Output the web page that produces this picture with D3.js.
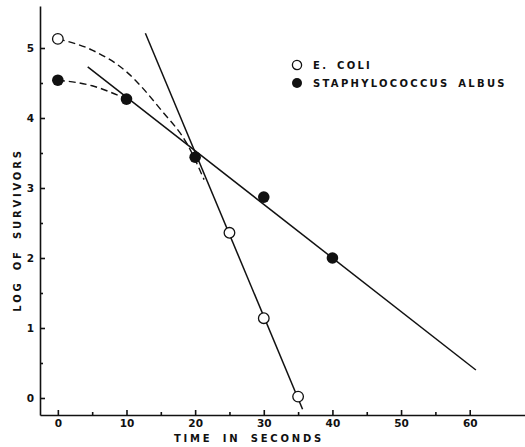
<!DOCTYPE html>
<html>
<head>
<meta charset="utf-8">
<script src="https://cdn.jsdelivr.net/npm/d3@7"></script>
<style>
  body { margin: 0; background: #fff; }
  svg { display: block; }
  text { font-family: "DejaVu Sans", sans-serif; fill: #111; }
</style>
</head>
<body>
<svg id="chart" width="525" height="447"></svg>
<script>
// data (time in seconds, log of survivors)
var coliTime = [0, 25, 30, 35];
var coliLog = [5.13, 2.36, 1.14, 0.02];
var staphTime = [0, 10, 20, 30, 40];
var staphLog = [4.54, 4.27, 3.44, 2.87, 2.0];

// fitted straight lines (end points)
var coliFitTime = [12.75, 35.65];
var coliFitLog = [5.21, -0.16];
var staphFitTime = [4.35, 60.9];
var staphFitLog = [4.73, 0.4];

// dashed shoulder curves
var coliCurveTime = [0, 5, 10, 15, 19, 21.3];
var coliCurveLog = [5.13, 4.97, 4.66, 4.12, 3.6, 3.12];
var staphCurveTime = [0, 5, 10];
var staphCurveLog = [4.54, 4.46, 4.27];

var xTicks = [0, 10, 20, 30, 40, 50, 60];
var xMinor = [5, 15, 25, 35, 45, 55];
var yTicks = [0, 1, 2, 3, 4, 5];
var yMinor = [0.5, 1.5, 2.5, 3.5, 4.5];

var svg = d3.select("#chart");

var x = d3.scaleLinear().domain([-2.6, 68.2]).range([40, 526]);
var y = d3.scaleLinear().domain([-0.243, 5.6]).range([415, 6]);

function zip(a, b) { return a.map(function(v, i) { return [v, b[i]]; }); }

var line = d3.line()
    .x(function(d) { return x(d[0]); })
    .y(function(d) { return y(d[1]); });
var curve = d3.line()
    .curve(d3.curveMonotoneX)
    .x(function(d) { return x(d[0]); })
    .y(function(d) { return y(d[1]); });

// axes
svg.append("g").attr("transform", "translate(0,415)")
    .call(d3.axisBottom(x).tickValues(xTicks).tickFormat(d3.format("d"))
      .tickSizeInner(-5).tickSizeOuter(0).tickPadding(5));
svg.append("g").attr("transform", "translate(0,415)")
    .call(d3.axisBottom(x).tickValues(xMinor).tickSizeInner(-3).tickSizeOuter(0).tickFormat(""))
    .select(".domain").remove();
svg.append("g").attr("transform", "translate(40,0)")
    .call(d3.axisLeft(y).tickValues(yTicks).tickFormat(d3.format("d"))
      .tickSizeInner(-5).tickSizeOuter(0).tickPadding(6));
svg.append("g").attr("transform", "translate(40,0)")
    .call(d3.axisLeft(y).tickValues(yMinor).tickSizeInner(-3).tickSizeOuter(0).tickFormat(""))
    .select(".domain").remove();

svg.selectAll(".domain, .tick line").attr("stroke", "#111").attr("stroke-width", 1.6);
svg.selectAll(".tick text")
    .style("font-size", "10.5px").style("font-weight", "bold").attr("fill", "#111");

// axis titles
svg.append("text")
    .attr("x", 249).attr("y", 442)
    .attr("text-anchor", "middle")
    .style("font-size", "10px").style("font-weight", "bold")
    .style("letter-spacing", "2.8px").style("word-spacing", "4px")
    .text("TIME IN SECONDS");
svg.append("text")
    .attr("transform", "translate(21,230) rotate(-90)")
    .attr("text-anchor", "middle")
    .style("font-size", "10px").style("font-weight", "bold")
    .style("letter-spacing", "2.8px").style("word-spacing", "4px")
    .text("LOG OF SURVIVORS");

// dashed shoulders
svg.append("path").datum(zip(coliCurveTime, coliCurveLog))
    .attr("d", curve).attr("fill", "none").attr("stroke", "#111")
    .attr("stroke-width", 1.4).attr("stroke-dasharray", "7,4");
svg.append("path").datum(zip(staphCurveTime, staphCurveLog))
    .attr("d", curve).attr("fill", "none").attr("stroke", "#111")
    .attr("stroke-width", 1.4).attr("stroke-dasharray", "7,4");

// straight fits
svg.append("path").datum(zip(coliFitTime, coliFitLog))
    .attr("d", line).attr("fill", "none").attr("stroke", "#111").attr("stroke-width", 1.5);
svg.append("path").datum(zip(staphFitTime, staphFitLog))
    .attr("d", line).attr("fill", "none").attr("stroke", "#111").attr("stroke-width", 1.5);

// points
svg.selectAll(".coli").data(zip(coliTime, coliLog)).enter().append("circle")
    .attr("cx", function(d) { return x(d[0]); })
    .attr("cy", function(d) { return y(d[1]); })
    .attr("r", 5.3).attr("fill", "#fff").attr("stroke", "#111").attr("stroke-width", 1.3);
svg.selectAll(".staph").data(zip(staphTime, staphLog)).enter().append("circle")
    .attr("cx", function(d) { return x(d[0]); })
    .attr("cy", function(d) { return y(d[1]); })
    .attr("r", 5.8).attr("fill", "#111");

// legend
var legend = svg.append("g").attr("transform", "translate(297,0)");
legend.append("circle").attr("cx", 0).attr("cy", 65).attr("r", 4.6)
    .attr("fill", "#fff").attr("stroke", "#111").attr("stroke-width", 1.3);
legend.append("circle").attr("cx", 0).attr("cy", 83).attr("r", 5).attr("fill", "#111");
legend.append("text").attr("x", 16).attr("y", 69)
    .style("font-size", "10px").style("font-weight", "bold")
    .style("letter-spacing", "2.3px").style("word-spacing", "3px").text("E. COLI");
legend.append("text").attr("x", 16).attr("y", 87)
    .style("font-size", "10px").style("font-weight", "bold")
    .style("letter-spacing", "2.3px").style("word-spacing", "3px").text("STAPHYLOCOCCUS ALBUS");
</script>
</body>
</html>
